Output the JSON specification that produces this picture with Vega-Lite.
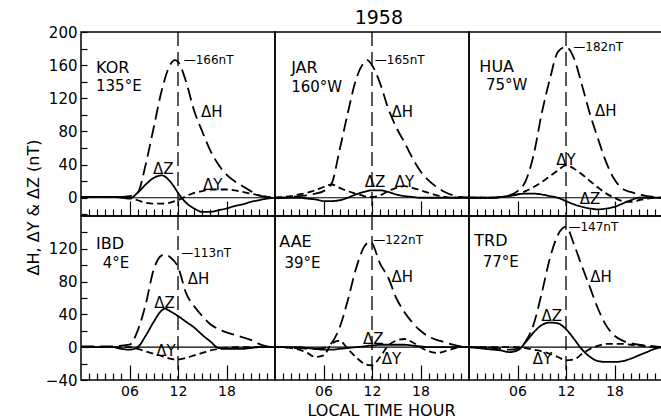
{
"$schema": "https://vega.github.io/schema/vega-lite/v6.json",
"background": "white",
"padding": {"left": 24, "top": 9, "right": 0, "bottom": 0},
"autosize": {"type": "pad"},
"title": {"text": "1958", "fontSize": 19, "font": "DejaVu Sans", "fontWeight": "normal", "color": "black", "anchor": "middle", "dx": 33, "offset": -4},
"config": {
  "font": "DejaVu Sans",
  "view": {"stroke": "black", "strokeWidth": 1.5},
  "axis": {"labelFont": "DejaVu Sans", "titleFont": "DejaVu Sans", "labelColor": "black", "titleColor": "black", "tickColor": "black", "domain": false, "grid": false, "titleFontWeight": "normal"},
  "text": {"font": "DejaVu Sans", "color": "black"}
},
"datasets": {
"curves": [
{"s":"KOR","h":0,"H":1,"Y":1,"Z":1},{"s":"KOR","h":1,"H":1,"Y":1,"Z":1},{"s":"KOR","h":2,"H":1,"Y":1,"Z":1},{"s":"KOR","h":3,"H":1,"Y":1,"Z":1},{"s":"KOR","h":4,"H":1,"Y":1,"Z":1},{"s":"KOR","h":5,"H":1,"Y":1,"Z":0},{"s":"KOR","h":6,"H":2,"Y":0,"Z":-1},{"s":"KOR","h":7,"H":6,"Y":-3,"Z":6},{"s":"KOR","h":8,"H":40,"Y":-6,"Z":16},{"s":"KOR","h":9,"H":85,"Y":-7,"Z":24},{"s":"KOR","h":10,"H":130,"Y":-7,"Z":27},{"s":"KOR","h":11,"H":160,"Y":-6,"Z":20},{"s":"KOR","h":11.6,"H":166,"Y":-4,"Z":12},{"s":"KOR","h":12,"H":164,"Y":-3,"Z":6},{"s":"KOR","h":13,"H":140,"Y":2,"Z":-6},{"s":"KOR","h":14,"H":105,"Y":6,"Z":-13},{"s":"KOR","h":15,"H":80,"Y":8,"Z":-17},{"s":"KOR","h":16,"H":57,"Y":10,"Z":-17},{"s":"KOR","h":17,"H":40,"Y":10,"Z":-15},{"s":"KOR","h":18,"H":28,"Y":10,"Z":-13},{"s":"KOR","h":19,"H":20,"Y":9,"Z":-10},{"s":"KOR","h":20,"H":14,"Y":7,"Z":-8},{"s":"KOR","h":21,"H":8,"Y":5,"Z":-5},{"s":"KOR","h":22,"H":3,"Y":3,"Z":-3},{"s":"KOR","h":23,"H":1,"Y":1,"Z":-1},{"s":"KOR","h":24,"H":0,"Y":0,"Z":0},
{"s":"JAR","h":0,"H":0,"Y":0,"Z":0},{"s":"JAR","h":1,"H":0,"Y":1,"Z":0},{"s":"JAR","h":2,"H":1,"Y":2,"Z":0},{"s":"JAR","h":3,"H":2,"Y":4,"Z":0},{"s":"JAR","h":4,"H":3,"Y":6,"Z":-1},{"s":"JAR","h":5,"H":5,"Y":9,"Z":-2},{"s":"JAR","h":6,"H":8,"Y":13,"Z":-4},{"s":"JAR","h":7,"H":17,"Y":16,"Z":-4},{"s":"JAR","h":8,"H":58,"Y":12,"Z":-3},{"s":"JAR","h":9,"H":102,"Y":8,"Z":0},{"s":"JAR","h":10,"H":142,"Y":5,"Z":4},{"s":"JAR","h":11,"H":163,"Y":2,"Z":7},{"s":"JAR","h":11.4,"H":166,"Y":1,"Z":8},{"s":"JAR","h":12,"H":160,"Y":1,"Z":9},{"s":"JAR","h":13,"H":138,"Y":3,"Z":9},{"s":"JAR","h":14,"H":108,"Y":8,"Z":7},{"s":"JAR","h":15,"H":85,"Y":12,"Z":4},{"s":"JAR","h":16,"H":67,"Y":14,"Z":2},{"s":"JAR","h":17,"H":48,"Y":12,"Z":1},{"s":"JAR","h":18,"H":32,"Y":9,"Z":0},{"s":"JAR","h":19,"H":21,"Y":6,"Z":0},{"s":"JAR","h":20,"H":13,"Y":3,"Z":0},{"s":"JAR","h":21,"H":7,"Y":1,"Z":0},{"s":"JAR","h":22,"H":3,"Y":0,"Z":0},{"s":"JAR","h":23,"H":1,"Y":0,"Z":0},{"s":"JAR","h":24,"H":0,"Y":0,"Z":0},
{"s":"HUA","h":0,"H":0,"Y":0,"Z":0},{"s":"HUA","h":1,"H":0,"Y":0,"Z":0},{"s":"HUA","h":2,"H":0,"Y":0,"Z":0},{"s":"HUA","h":3,"H":0,"Y":0,"Z":0},{"s":"HUA","h":4,"H":1,"Y":1,"Z":1},{"s":"HUA","h":5,"H":3,"Y":2,"Z":2},{"s":"HUA","h":6,"H":8,"Y":4,"Z":4},{"s":"HUA","h":7,"H":20,"Y":8,"Z":5},{"s":"HUA","h":8,"H":52,"Y":13,"Z":5},{"s":"HUA","h":9,"H":102,"Y":19,"Z":4},{"s":"HUA","h":10,"H":143,"Y":26,"Z":2},{"s":"HUA","h":11,"H":176,"Y":33,"Z":0},{"s":"HUA","h":12,"H":182,"Y":39,"Z":-4},{"s":"HUA","h":13,"H":168,"Y":35,"Z":-8},{"s":"HUA","h":14,"H":135,"Y":28,"Z":-11},{"s":"HUA","h":15,"H":100,"Y":20,"Z":-13},{"s":"HUA","h":16,"H":70,"Y":12,"Z":-14},{"s":"HUA","h":17,"H":42,"Y":5,"Z":-13},{"s":"HUA","h":18,"H":22,"Y":0,"Z":-11},{"s":"HUA","h":19,"H":11,"Y":-4,"Z":-7},{"s":"HUA","h":20,"H":7,"Y":-5,"Z":-3},{"s":"HUA","h":21,"H":4,"Y":-3,"Z":0},{"s":"HUA","h":22,"H":2,"Y":-1,"Z":0},{"s":"HUA","h":23,"H":1,"Y":0,"Z":0},{"s":"HUA","h":24,"H":0,"Y":0,"Z":0},
{"s":"IBD","h":0,"H":1,"Y":0,"Z":0},{"s":"IBD","h":1,"H":1,"Y":0,"Z":0},{"s":"IBD","h":2,"H":1,"Y":0,"Z":0},{"s":"IBD","h":3,"H":1,"Y":0,"Z":0},{"s":"IBD","h":4,"H":1,"Y":0,"Z":0},{"s":"IBD","h":5,"H":2,"Y":0,"Z":-2},{"s":"IBD","h":6,"H":3,"Y":0,"Z":-3},{"s":"IBD","h":7,"H":20,"Y":-2,"Z":0},{"s":"IBD","h":8,"H":52,"Y":-5,"Z":14},{"s":"IBD","h":9,"H":95,"Y":-8,"Z":31},{"s":"IBD","h":10,"H":112,"Y":-11,"Z":45},{"s":"IBD","h":10.4,"H":113,"Y":-12,"Z":47},{"s":"IBD","h":11,"H":110,"Y":-14,"Z":44},{"s":"IBD","h":12,"H":98,"Y":-15,"Z":38},{"s":"IBD","h":13,"H":66,"Y":-13,"Z":31},{"s":"IBD","h":14,"H":50,"Y":-10,"Z":24},{"s":"IBD","h":15,"H":38,"Y":-7,"Z":15},{"s":"IBD","h":16,"H":28,"Y":-4,"Z":7},{"s":"IBD","h":17,"H":22,"Y":-2,"Z":-1},{"s":"IBD","h":18,"H":18,"Y":-1,"Z":-2},{"s":"IBD","h":19,"H":15,"Y":0,"Z":-2},{"s":"IBD","h":20,"H":12,"Y":0,"Z":-2},{"s":"IBD","h":21,"H":9,"Y":0,"Z":-1},{"s":"IBD","h":22,"H":4,"Y":0,"Z":0},{"s":"IBD","h":23,"H":1,"Y":0,"Z":0},{"s":"IBD","h":24,"H":0,"Y":0,"Z":0},
{"s":"AAE","h":0,"H":0,"Y":0,"Z":0},{"s":"AAE","h":1,"H":0,"Y":0,"Z":0},{"s":"AAE","h":2,"H":-1,"Y":-1,"Z":0},{"s":"AAE","h":3,"H":-1,"Y":-3,"Z":0},{"s":"AAE","h":4,"H":-2,"Y":-7,"Z":-1},{"s":"AAE","h":5,"H":-2,"Y":-12,"Z":-2},{"s":"AAE","h":6,"H":-1,"Y":-10,"Z":-3},{"s":"AAE","h":7,"H":5,"Y":4,"Z":-3},{"s":"AAE","h":8,"H":24,"Y":8,"Z":-2},{"s":"AAE","h":9,"H":57,"Y":-2,"Z":-1},{"s":"AAE","h":10,"H":95,"Y":-12,"Z":0},{"s":"AAE","h":11,"H":122,"Y":-20,"Z":1},{"s":"AAE","h":11.8,"H":129,"Y":-22,"Z":2},{"s":"AAE","h":12,"H":127,"Y":-22,"Z":2},{"s":"AAE","h":13,"H":102,"Y":-12,"Z":3},{"s":"AAE","h":14,"H":85,"Y":2,"Z":3},{"s":"AAE","h":15,"H":60,"Y":8,"Z":3},{"s":"AAE","h":16,"H":43,"Y":10,"Z":3},{"s":"AAE","h":17,"H":30,"Y":6,"Z":2},{"s":"AAE","h":18,"H":20,"Y":0,"Z":1},{"s":"AAE","h":19,"H":13,"Y":-5,"Z":0},{"s":"AAE","h":20,"H":9,"Y":-7,"Z":0},{"s":"AAE","h":21,"H":6,"Y":-5,"Z":0},{"s":"AAE","h":22,"H":3,"Y":-2,"Z":0},{"s":"AAE","h":23,"H":1,"Y":0,"Z":0},{"s":"AAE","h":24,"H":0,"Y":0,"Z":0},
{"s":"TRD","h":0,"H":0,"Y":0,"Z":0},{"s":"TRD","h":1,"H":0,"Y":0,"Z":-1},{"s":"TRD","h":2,"H":0,"Y":0,"Z":-2},{"s":"TRD","h":3,"H":-1,"Y":0,"Z":-3},{"s":"TRD","h":4,"H":-2,"Y":0,"Z":-4},{"s":"TRD","h":5,"H":-3,"Y":0,"Z":-6},{"s":"TRD","h":6,"H":-2,"Y":0,"Z":-4},{"s":"TRD","h":7,"H":7,"Y":-1,"Z":6},{"s":"TRD","h":8,"H":28,"Y":-3,"Z":18},{"s":"TRD","h":9,"H":66,"Y":-5,"Z":27},{"s":"TRD","h":10,"H":108,"Y":-8,"Z":30},{"s":"TRD","h":11,"H":137,"Y":-12,"Z":29},{"s":"TRD","h":12,"H":147,"Y":-16,"Z":22},{"s":"TRD","h":13,"H":125,"Y":-15,"Z":10},{"s":"TRD","h":14,"H":98,"Y":-8,"Z":-3},{"s":"TRD","h":15,"H":72,"Y":-2,"Z":-12},{"s":"TRD","h":16,"H":46,"Y":2,"Z":-17},{"s":"TRD","h":17,"H":26,"Y":4,"Z":-18},{"s":"TRD","h":18,"H":14,"Y":4,"Z":-18},{"s":"TRD","h":19,"H":8,"Y":4,"Z":-17},{"s":"TRD","h":20,"H":5,"Y":3,"Z":-14},{"s":"TRD","h":21,"H":3,"Y":2,"Z":-10},{"s":"TRD","h":22,"H":2,"Y":1,"Z":-6},{"s":"TRD","h":23,"H":1,"Y":0,"Z":-2},{"s":"TRD","h":24,"H":0,"Y":0,"Z":0}
],
"txt": [
{"s":"KOR","k":"n","h":1.86,"v":150,"t":"KOR"},{"s":"KOR","k":"l","h":1.86,"v":129,"t":"135°E"},{"s":"KOR","k":"l","h":14.85,"v":97,"t":"ΔH"},{"s":"KOR","k":"l","h":8.9,"v":29,"t":"ΔZ"},{"s":"KOR","k":"l","h":15.1,"v":9,"t":"ΔY"},{"s":"KOR","k":"p","h":12.7,"v":166,"t":"—166nT"},
{"s":"JAR","k":"n","h":2.0,"v":150,"t":"JAR"},{"s":"JAR","k":"l","h":2.0,"v":128,"t":"160°W"},{"s":"JAR","k":"l","h":14.4,"v":97,"t":"ΔH"},{"s":"JAR","k":"l","h":11.1,"v":13,"t":"ΔZ"},{"s":"JAR","k":"l","h":14.8,"v":13,"t":"ΔY"},{"s":"JAR","k":"p","h":12.35,"v":166,"t":"—165nT"},
{"s":"HUA","k":"n","h":1.28,"v":152,"t":"HUA"},{"s":"HUA","k":"l","h":2.1,"v":130,"t":"75°W"},{"s":"HUA","k":"l","h":15.6,"v":99,"t":"ΔH"},{"s":"HUA","k":"l","h":10.8,"v":39,"t":"ΔY"},{"s":"HUA","k":"l","h":13.7,"v":-7,"t":"ΔZ"},{"s":"HUA","k":"p","h":12.9,"v":182,"t":"—182nT"},
{"s":"IBD","k":"n","h":1.86,"v":119.5,"t":"IBD"},{"s":"IBD","k":"l","h":2.68,"v":97,"t":"4°E"},{"s":"IBD","k":"l","h":13.2,"v":77,"t":"ΔH"},{"s":"IBD","k":"l","h":9.07,"v":48,"t":"ΔZ"},{"s":"IBD","k":"l","h":9.3,"v":-10.6,"t":"ΔY"},{"s":"IBD","k":"p","h":12.4,"v":114.6,"t":"—113nT"},
{"s":"AAE","k":"n","h":0.53,"v":121.6,"t":"AAE"},{"s":"AAE","k":"l","h":1.16,"v":97,"t":"39°E"},{"s":"AAE","k":"l","h":14.4,"v":79,"t":"ΔH"},{"s":"AAE","k":"l","h":10.9,"v":3.7,"t":"ΔZ"},{"s":"AAE","k":"l","h":13.2,"v":-20.7,"t":"ΔY"},{"s":"AAE","k":"p","h":12.15,"v":130.5,"t":"—122nT"},
{"s":"TRD","k":"n","h":0.66,"v":123.5,"t":"TRD"},{"s":"TRD","k":"l","h":1.7,"v":98,"t":"77°E"},{"s":"TRD","k":"l","h":15.0,"v":79,"t":"ΔH"},{"s":"TRD","k":"l","h":8.96,"v":32,"t":"ΔZ"},{"s":"TRD","k":"l","h":7.9,"v":-20.7,"t":"ΔY"},{"s":"TRD","k":"p","h":12.3,"v":147,"t":"—147nT"}
]
},
"columns": 3,
"spacing": 0,
"bounds": "flush",
"align": "all",
"concat": [
{"width": 194, "height": 184, "resolve": {"axis": {"x": "independent", "y": "independent"}}, "layer": [
 {"data": {"name": "curves"}, "transform": [{"filter": "datum.s == 'KOR'"}, {"fold": ["H","Y","Z"], "as": ["c","v"]}],
  "mark": {"type": "line", "interpolate": "monotone", "color": "black", "strokeWidth": 1.8},
  "encoding": {
   "x": {"field": "h", "type": "quantitative", "scale": {"domain": [0,24], "nice": false, "zero": false},
     "axis": {"orient": "bottom", "values": [1,2,3,4,5,7,8,9,10,11,13,14,15,16,17,19,20,21,22,23], "labels": false, "title": null, "tickWidth": 1.2, "tickSize": -7}},
   "y": {"field": "v", "type": "quantitative", "scale": {"domain": [-22,200], "nice": false, "zero": false},
     "axis": {"orient": "left", "values": [-20,0,20,40,60,80,100,120,140,160,180,200], "labelExpr": "datum.value % 40 == 0 ? datum.label : ''", "labelOverlap": false, "labelFontSize": 15, "tickSize": -6, "tickWidth": 1.2, "labelPadding": 10, "title": "ΔH, ΔY & ΔZ (nT)", "titleFontSize": 16, "titleX": -40, "titleY": 175}},
   "strokeDash": {"field": "c", "type": "nominal", "scale": {"domain": ["H","Y","Z"], "range": [[13,6],[7,4],[1,0]]}, "legend": null}
  }},
 {"data": {"values": [{}]}, "mark": {"type": "rule", "color": "black", "strokeWidth": 1.3, "strokeDash": [14,6]}, "encoding": {"x": {"datum": 12, "type": "quantitative", "axis": {"orient": "bottom", "values": [6,12,18], "labels": false, "title": null, "tickWidth": 1.2, "tickSize": -15}}}},
 {"data": {"values": [{}]}, "mark": {"type": "rule", "color": "black", "strokeWidth": 1.2}, "encoding": {"y": {"datum": 0, "type": "quantitative", "axis": null}}},
 {"data": {"name": "txt"}, "transform": [{"filter": "datum.s == 'KOR' && datum.k == 'n'"}], "mark": {"type": "text", "align": "left", "baseline": "alphabetic", "fontSize": 16}, "encoding": {"x": {"field": "h", "type": "quantitative", "axis": null}, "y": {"field": "v", "type": "quantitative", "axis": null}, "text": {"field": "t"}}},
 {"data": {"name": "txt"}, "transform": [{"filter": "datum.s == 'KOR' && datum.k == 'l'"}], "mark": {"type": "text", "align": "left", "baseline": "alphabetic", "fontSize": 15}, "encoding": {"x": {"field": "h", "type": "quantitative", "axis": null}, "y": {"field": "v", "type": "quantitative", "axis": null}, "text": {"field": "t"}}},
 {"data": {"name": "txt"}, "transform": [{"filter": "datum.s == 'KOR' && datum.k == 'p'"}], "mark": {"type": "text", "align": "left", "baseline": "middle", "fontSize": 12}, "encoding": {"x": {"field": "h", "type": "quantitative", "axis": null}, "y": {"field": "v", "type": "quantitative", "axis": null}, "text": {"field": "t"}}}
]},
{"width": 194, "height": 184, "resolve": {"axis": {"x": "independent", "y": "independent"}}, "layer": [
 {"data": {"name": "curves"}, "transform": [{"filter": "datum.s == 'JAR'"}, {"fold": ["H","Y","Z"], "as": ["c","v"]}],
  "mark": {"type": "line", "interpolate": "monotone", "color": "black", "strokeWidth": 1.8},
  "encoding": {
   "x": {"field": "h", "type": "quantitative", "scale": {"domain": [0,24], "nice": false, "zero": false},
     "axis": {"orient": "bottom", "values": [1,2,3,4,5,7,8,9,10,11,13,14,15,16,17,19,20,21,22,23], "labels": false, "title": null, "tickWidth": 1.2, "tickSize": -7}},
   "y": {"field": "v", "type": "quantitative", "scale": {"domain": [-22,200], "nice": false, "zero": false}, "axis": null},
   "strokeDash": {"field": "c", "type": "nominal", "scale": {"domain": ["H","Y","Z"], "range": [[13,6],[7,4],[1,0]]}, "legend": null}
  }},
 {"data": {"values": [{}]}, "mark": {"type": "rule", "color": "black", "strokeWidth": 1.3, "strokeDash": [14,6]}, "encoding": {"x": {"datum": 12, "type": "quantitative", "axis": {"orient": "bottom", "values": [6,12,18], "labels": false, "title": null, "tickWidth": 1.2, "tickSize": -15}}}},
 {"data": {"values": [{}]}, "mark": {"type": "rule", "color": "black", "strokeWidth": 1.2}, "encoding": {"y": {"datum": 0, "type": "quantitative", "axis": null}}},
 {"data": {"name": "txt"}, "transform": [{"filter": "datum.s == 'JAR' && datum.k == 'n'"}], "mark": {"type": "text", "align": "left", "baseline": "alphabetic", "fontSize": 16}, "encoding": {"x": {"field": "h", "type": "quantitative", "axis": null}, "y": {"field": "v", "type": "quantitative", "axis": null}, "text": {"field": "t"}}},
 {"data": {"name": "txt"}, "transform": [{"filter": "datum.s == 'JAR' && datum.k == 'l'"}], "mark": {"type": "text", "align": "left", "baseline": "alphabetic", "fontSize": 15}, "encoding": {"x": {"field": "h", "type": "quantitative", "axis": null}, "y": {"field": "v", "type": "quantitative", "axis": null}, "text": {"field": "t"}}},
 {"data": {"name": "txt"}, "transform": [{"filter": "datum.s == 'JAR' && datum.k == 'p'"}], "mark": {"type": "text", "align": "left", "baseline": "middle", "fontSize": 12}, "encoding": {"x": {"field": "h", "type": "quantitative", "axis": null}, "y": {"field": "v", "type": "quantitative", "axis": null}, "text": {"field": "t"}}}
]},
{"width": 194, "height": 184, "resolve": {"axis": {"x": "independent", "y": "independent"}}, "layer": [
 {"data": {"name": "curves"}, "transform": [{"filter": "datum.s == 'HUA'"}, {"fold": ["H","Y","Z"], "as": ["c","v"]}],
  "mark": {"type": "line", "interpolate": "monotone", "color": "black", "strokeWidth": 1.8},
  "encoding": {
   "x": {"field": "h", "type": "quantitative", "scale": {"domain": [0,24], "nice": false, "zero": false},
     "axis": {"orient": "bottom", "values": [1,2,3,4,5,7,8,9,10,11,13,14,15,16,17,19,20,21,22,23], "labels": false, "title": null, "tickWidth": 1.2, "tickSize": -7}},
   "y": {"field": "v", "type": "quantitative", "scale": {"domain": [-22,200], "nice": false, "zero": false}, "axis": null},
   "strokeDash": {"field": "c", "type": "nominal", "scale": {"domain": ["H","Y","Z"], "range": [[13,6],[7,4],[1,0]]}, "legend": null}
  }},
 {"data": {"values": [{}]}, "mark": {"type": "rule", "color": "black", "strokeWidth": 1.3, "strokeDash": [14,6]}, "encoding": {"x": {"datum": 12, "type": "quantitative", "axis": {"orient": "bottom", "values": [6,12,18], "labels": false, "title": null, "tickWidth": 1.2, "tickSize": -15}}}},
 {"data": {"values": [{}]}, "mark": {"type": "rule", "color": "black", "strokeWidth": 1.2}, "encoding": {"y": {"datum": 0, "type": "quantitative", "axis": null}}},
 {"data": {"name": "txt"}, "transform": [{"filter": "datum.s == 'HUA' && datum.k == 'n'"}], "mark": {"type": "text", "align": "left", "baseline": "alphabetic", "fontSize": 16}, "encoding": {"x": {"field": "h", "type": "quantitative", "axis": null}, "y": {"field": "v", "type": "quantitative", "axis": null}, "text": {"field": "t"}}},
 {"data": {"name": "txt"}, "transform": [{"filter": "datum.s == 'HUA' && datum.k == 'l'"}], "mark": {"type": "text", "align": "left", "baseline": "alphabetic", "fontSize": 15}, "encoding": {"x": {"field": "h", "type": "quantitative", "axis": null}, "y": {"field": "v", "type": "quantitative", "axis": null}, "text": {"field": "t"}}},
 {"data": {"name": "txt"}, "transform": [{"filter": "datum.s == 'HUA' && datum.k == 'p'"}], "mark": {"type": "text", "align": "left", "baseline": "middle", "fontSize": 12}, "encoding": {"x": {"field": "h", "type": "quantitative", "axis": null}, "y": {"field": "v", "type": "quantitative", "axis": null}, "text": {"field": "t"}}}
]},
{"width": 194, "height": 164, "resolve": {"axis": {"x": "independent", "y": "independent"}}, "layer": [
 {"data": {"name": "curves"}, "transform": [{"filter": "datum.s == 'IBD'"}, {"fold": ["H","Y","Z"], "as": ["c","v"]}],
  "mark": {"type": "line", "interpolate": "monotone", "color": "black", "strokeWidth": 1.8},
  "encoding": {
   "x": {"field": "h", "type": "quantitative", "scale": {"domain": [0,24], "nice": false, "zero": false},
     "axis": {"orient": "bottom", "values": [1,2,3,4,5,7,8,9,10,11,13,14,15,16,17,19,20,21,22,23], "labels": false, "title": null, "tickWidth": 1.2, "tickSize": -7}},
   "y": {"field": "v", "type": "quantitative", "scale": {"domain": [-40,160], "nice": false, "zero": false},
     "axis": {"orient": "left", "values": [-40,-20,0,20,40,60,80,100,120,140], "labelExpr": "datum.value % 40 == 0 ? datum.label : ''", "labelOverlap": false, "labelFontSize": 15, "tickSize": -6, "tickWidth": 1.2, "labelPadding": 10, "title": null}},
   "strokeDash": {"field": "c", "type": "nominal", "scale": {"domain": ["H","Y","Z"], "range": [[13,6],[7,4],[1,0]]}, "legend": null}
  }},
 {"data": {"values": [{}]}, "mark": {"type": "rule", "color": "black", "strokeWidth": 1.3, "strokeDash": [14,6]}, "encoding": {"x": {"datum": 12, "type": "quantitative", "axis": {"orient": "bottom", "values": [6,12,18], "labelExpr": "datum.value < 10 ? '0' + datum.value : '' + datum.value", "labelFontSize": 14, "labelPadding": 19, "labelFlush": false, "title": null, "tickWidth": 1.2, "tickSize": -15}}}},
 {"data": {"values": [{}]}, "mark": {"type": "rule", "color": "black", "strokeWidth": 1.2}, "encoding": {"y": {"datum": 0, "type": "quantitative", "axis": null}}},
 {"data": {"name": "txt"}, "transform": [{"filter": "datum.s == 'IBD' && datum.k == 'n'"}], "mark": {"type": "text", "align": "left", "baseline": "alphabetic", "fontSize": 16}, "encoding": {"x": {"field": "h", "type": "quantitative", "axis": null}, "y": {"field": "v", "type": "quantitative", "axis": null}, "text": {"field": "t"}}},
 {"data": {"name": "txt"}, "transform": [{"filter": "datum.s == 'IBD' && datum.k == 'l'"}], "mark": {"type": "text", "align": "left", "baseline": "alphabetic", "fontSize": 15}, "encoding": {"x": {"field": "h", "type": "quantitative", "axis": null}, "y": {"field": "v", "type": "quantitative", "axis": null}, "text": {"field": "t"}}},
 {"data": {"name": "txt"}, "transform": [{"filter": "datum.s == 'IBD' && datum.k == 'p'"}], "mark": {"type": "text", "align": "left", "baseline": "middle", "fontSize": 12}, "encoding": {"x": {"field": "h", "type": "quantitative", "axis": null}, "y": {"field": "v", "type": "quantitative", "axis": null}, "text": {"field": "t"}}}
]},
{"width": 194, "height": 164, "resolve": {"axis": {"x": "independent", "y": "independent"}}, "layer": [
 {"data": {"name": "curves"}, "transform": [{"filter": "datum.s == 'AAE'"}, {"fold": ["H","Y","Z"], "as": ["c","v"]}],
  "mark": {"type": "line", "interpolate": "monotone", "color": "black", "strokeWidth": 1.8},
  "encoding": {
   "x": {"field": "h", "type": "quantitative", "scale": {"domain": [0,24], "nice": false, "zero": false},
     "axis": {"orient": "bottom", "values": [1,2,3,4,5,7,8,9,10,11,13,14,15,16,17,19,20,21,22,23], "labels": false, "title": null, "tickWidth": 1.2, "tickSize": -7}},
   "y": {"field": "v", "type": "quantitative", "scale": {"domain": [-40,160], "nice": false, "zero": false}, "axis": null},
   "strokeDash": {"field": "c", "type": "nominal", "scale": {"domain": ["H","Y","Z"], "range": [[13,6],[7,4],[1,0]]}, "legend": null}
  }},
 {"data": {"values": [{}]}, "mark": {"type": "rule", "color": "black", "strokeWidth": 1.3, "strokeDash": [14,6]}, "encoding": {"x": {"datum": 12, "type": "quantitative", "axis": {"orient": "bottom", "values": [6,12,18], "labelExpr": "datum.value < 10 ? '0' + datum.value : '' + datum.value", "labelFontSize": 14, "labelPadding": 19, "labelFlush": false, "title": "LOCAL TIME HOUR", "titleFontSize": 16, "titleX": 106, "titleY": 35, "titleBaseline": "alphabetic", "tickWidth": 1.2, "tickSize": -15}}}},
 {"data": {"values": [{}]}, "mark": {"type": "rule", "color": "black", "strokeWidth": 1.2}, "encoding": {"y": {"datum": 0, "type": "quantitative", "axis": null}}},
 {"data": {"name": "txt"}, "transform": [{"filter": "datum.s == 'AAE' && datum.k == 'n'"}], "mark": {"type": "text", "align": "left", "baseline": "alphabetic", "fontSize": 16}, "encoding": {"x": {"field": "h", "type": "quantitative", "axis": null}, "y": {"field": "v", "type": "quantitative", "axis": null}, "text": {"field": "t"}}},
 {"data": {"name": "txt"}, "transform": [{"filter": "datum.s == 'AAE' && datum.k == 'l'"}], "mark": {"type": "text", "align": "left", "baseline": "alphabetic", "fontSize": 15}, "encoding": {"x": {"field": "h", "type": "quantitative", "axis": null}, "y": {"field": "v", "type": "quantitative", "axis": null}, "text": {"field": "t"}}},
 {"data": {"name": "txt"}, "transform": [{"filter": "datum.s == 'AAE' && datum.k == 'p'"}], "mark": {"type": "text", "align": "left", "baseline": "middle", "fontSize": 12}, "encoding": {"x": {"field": "h", "type": "quantitative", "axis": null}, "y": {"field": "v", "type": "quantitative", "axis": null}, "text": {"field": "t"}}}
]},
{"width": 194, "height": 164, "resolve": {"axis": {"x": "independent", "y": "independent"}}, "layer": [
 {"data": {"name": "curves"}, "transform": [{"filter": "datum.s == 'TRD'"}, {"fold": ["H","Y","Z"], "as": ["c","v"]}],
  "mark": {"type": "line", "interpolate": "monotone", "color": "black", "strokeWidth": 1.8},
  "encoding": {
   "x": {"field": "h", "type": "quantitative", "scale": {"domain": [0,24], "nice": false, "zero": false},
     "axis": {"orient": "bottom", "values": [1,2,3,4,5,7,8,9,10,11,13,14,15,16,17,19,20,21,22,23], "labels": false, "title": null, "tickWidth": 1.2, "tickSize": -7}},
   "y": {"field": "v", "type": "quantitative", "scale": {"domain": [-40,160], "nice": false, "zero": false}, "axis": null},
   "strokeDash": {"field": "c", "type": "nominal", "scale": {"domain": ["H","Y","Z"], "range": [[13,6],[7,4],[1,0]]}, "legend": null}
  }},
 {"data": {"values": [{}]}, "mark": {"type": "rule", "color": "black", "strokeWidth": 1.3, "strokeDash": [14,6]}, "encoding": {"x": {"datum": 12, "type": "quantitative", "axis": {"orient": "bottom", "values": [6,12,18], "labelExpr": "datum.value < 10 ? '0' + datum.value : '' + datum.value", "labelFontSize": 14, "labelPadding": 19, "labelFlush": false, "title": null, "tickWidth": 1.2, "tickSize": -15}}}},
 {"data": {"values": [{}]}, "mark": {"type": "rule", "color": "black", "strokeWidth": 1.2}, "encoding": {"y": {"datum": 0, "type": "quantitative", "axis": null}}},
 {"data": {"name": "txt"}, "transform": [{"filter": "datum.s == 'TRD' && datum.k == 'n'"}], "mark": {"type": "text", "align": "left", "baseline": "alphabetic", "fontSize": 16}, "encoding": {"x": {"field": "h", "type": "quantitative", "axis": null}, "y": {"field": "v", "type": "quantitative", "axis": null}, "text": {"field": "t"}}},
 {"data": {"name": "txt"}, "transform": [{"filter": "datum.s == 'TRD' && datum.k == 'l'"}], "mark": {"type": "text", "align": "left", "baseline": "alphabetic", "fontSize": 15}, "encoding": {"x": {"field": "h", "type": "quantitative", "axis": null}, "y": {"field": "v", "type": "quantitative", "axis": null}, "text": {"field": "t"}}},
 {"data": {"name": "txt"}, "transform": [{"filter": "datum.s == 'TRD' && datum.k == 'p'"}], "mark": {"type": "text", "align": "left", "baseline": "middle", "fontSize": 12}, "encoding": {"x": {"field": "h", "type": "quantitative", "axis": null}, "y": {"field": "v", "type": "quantitative", "axis": null}, "text": {"field": "t"}}}
]}
]
}
